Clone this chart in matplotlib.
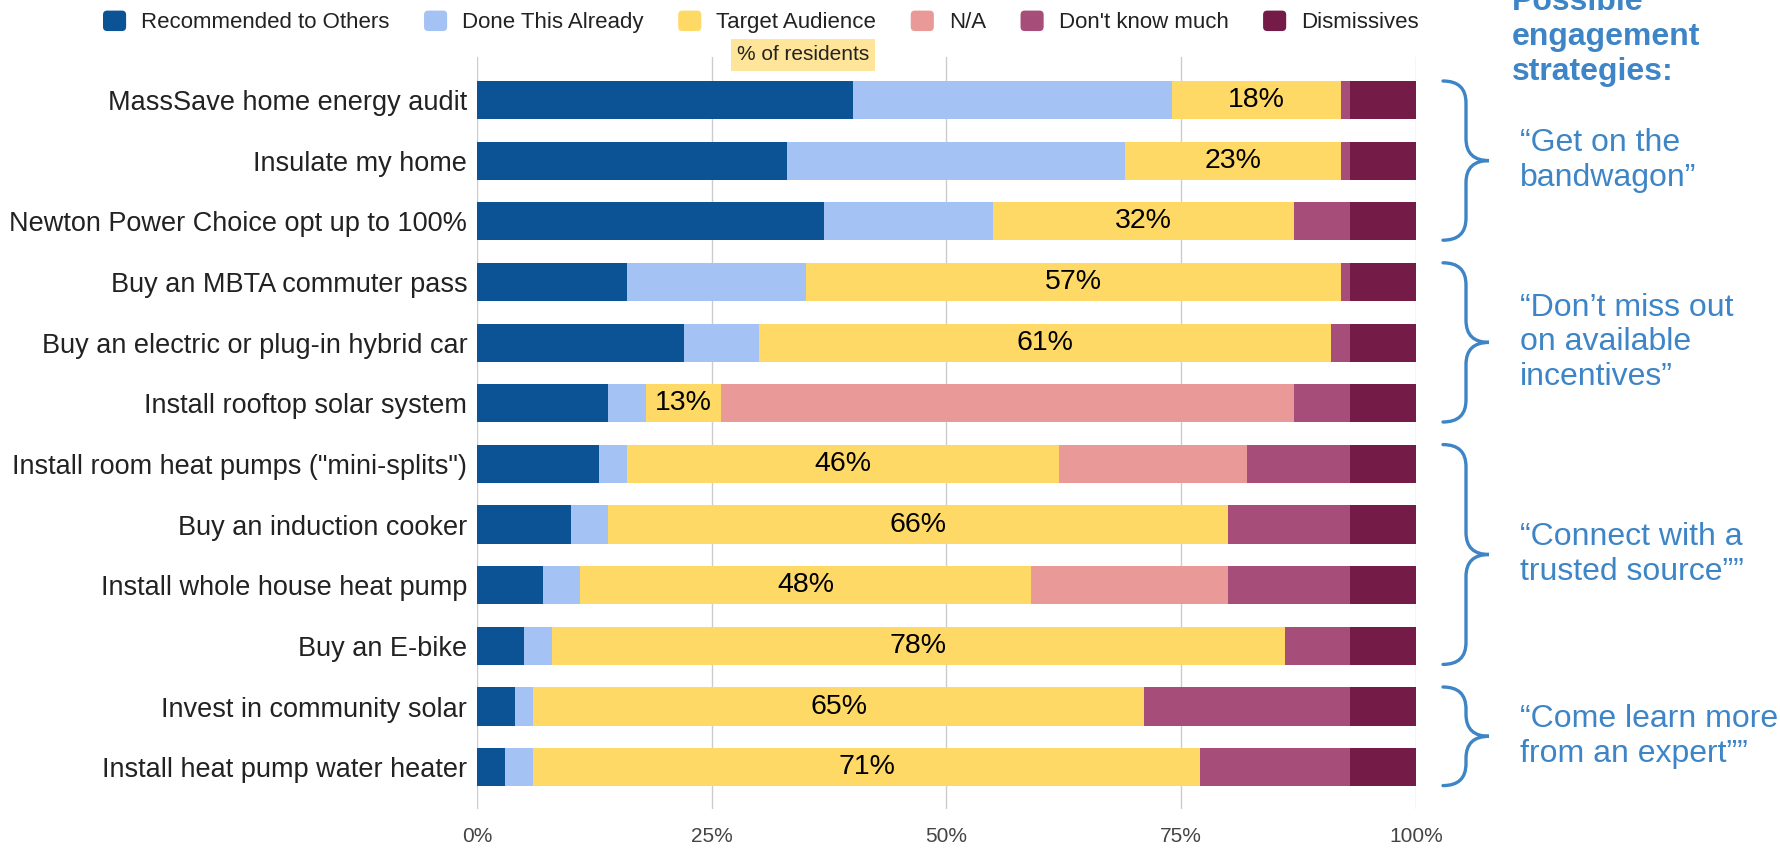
import numpy as np
import matplotlib.pyplot as plt
from matplotlib.patches import Patch, FancyBboxPatch, PathPatch
from matplotlib.path import Path
from matplotlib.transforms import Affine2D
from matplotlib.legend_handler import HandlerPatch

plt.rcParams['font.family'] = ['Liberation Sans', 'DejaVu Sans']

# Data
actions = [
    'MassSave home energy audit',
    'Insulate my home',
    'Newton Power Choice opt up to 100%',
    'Buy an MBTA commuter pass',
    'Buy an electric or plug-in hybrid car',
    'Install rooftop solar system',
    'Install room heat pumps ("mini-splits")',
    'Buy an induction cooker',
    'Install whole house heat pump',
    'Buy an E-bike',
    'Invest in community solar',
    'Install heat pump water heater',
]
recommended = [40, 33, 37, 16, 22, 14, 13, 10, 7, 5, 4, 3]
done_already = [34, 36, 18, 19, 8, 4, 3, 4, 4, 3, 2, 3]
target_audience = [18, 23, 32, 57, 61, 8, 46, 66, 48, 78, 65, 71]
not_applicable = [0, 0, 0, 0, 0, 61, 20, 0, 21, 0, 0, 0]
dont_know_much = [1, 1, 6, 1, 2, 6, 11, 13, 13, 7, 22, 16]
dismissives = [7, 7, 7, 7, 7, 7, 7, 7, 7, 7, 7, 7]
target_labels = ['18%', '23%', '32%', '57%', '61%', '13%', '46%', '66%', '48%', '78%', '65%', '71%']

series_names = ['Recommended to Others', 'Done This Already', 'Target Audience',
                'N/A', "Don't know much", 'Dismissives']
series_colors = ['#0b5394', '#a4c2f4', '#ffd966', '#ea9999', '#a64d79', '#741b47']

strategy_groups = [(0, 2), (3, 5), (6, 9), (10, 11)]
strategy_texts = ['\u201cGet on the\nbandwagon\u201d',
                  '\u201cDon\u2019t miss out\non available\nincentives\u201d',
                  '\u201cConnect with a\ntrusted source\u201d\u201d',
                  '\u201cCome learn more\nfrom an expert\u201d\u201d']

W, H = 1781, 848
fig = plt.figure(figsize=(W / 100, H / 100), dpi=100)
ax = fig.add_axes([477 / W, 1 - 809 / H, (1416 - 477) / W, (809 - 57) / H])

# pixel coords (top-left origin) for the side annotations
px = Affine2D().scale(1 / W, -1 / H).translate(0, 1) + fig.transFigure

y = np.arange(len(actions))
all_series = [recommended, done_already, target_audience, not_applicable,
              dont_know_much, dismissives]
left = np.zeros(len(actions))
for vals, name, col in zip(all_series, series_names, series_colors):
    ax.barh(y, vals, left=left, height=0.63, color=col, label=name, zorder=3)
    if name == 'Target Audience':
        for yi, l, v, lab in zip(y, left, vals, target_labels):
            ax.text(l + v / 2, yi, lab, ha='center', va='center',
                    fontsize=20.5, color='black', zorder=4)
    left += np.array(vals)

ax.set_xlim(0, 100)
ax.set_ylim(len(actions) - 0.31, -0.71)
ax.set_xticks([0, 25, 50, 75, 100])
ax.set_xticklabels(['0%', '25%', '50%', '75%', '100%'], fontsize=15, color='#444444')
ax.set_yticks(y)
ax.set_yticklabels(actions, fontsize=19.5, color='#222222')
ax.tick_params(axis='x', length=0, pad=13)
ax.tick_params(axis='y', length=0, pad=7)
ax.grid(axis='x', color='#cccccc', linewidth=1, zorder=0)
for s in ax.spines.values():
    s.set_visible(False)


def rounded_square(legend, orig_handle, xdescent, ydescent, width, height, fontsize):
    return FancyBboxPatch((-xdescent, -ydescent), width, height,
                          boxstyle='round,pad=0,rounding_size=3')


handles = [Patch(facecolor=c, label=n) for n, c in zip(series_names, series_colors)]
fig.legend(handles=handles, loc='center left', bbox_to_anchor=(103 / W, 1 - 22 / H),
           ncol=6, frameon=False, fontsize=16, borderpad=0, borderaxespad=0,
           handlelength=1.04, handleheight=1.04, handletextpad=0.68, columnspacing=1.55,
           labelcolor='#222222',
           handler_map={Patch: HandlerPatch(patch_func=rounded_square)})

fig.text(803, 55, '% of residents', transform=px, ha='center', va='center',
         fontsize=15, color='#222222', zorder=10,
         bbox=dict(boxstyle='square,pad=0.3', fc='#ffe599', ec='none'))

blue = '#3d85c6'
fig.text(1512, 37, 'Possible\nengagement\nstrategies:', transform=px, ha='left',
         va='center', fontsize=23, fontweight='bold', color=blue, linespacing=1.22)


def brace(top, bot, x0=1443, xs=1466, xt=1489):
    mid = (top + bot) / 2
    r = min(22, (bot - top) / 4)
    verts = [(x0, top), (xs, top), (xs, top + r), (xs, mid - r),
             (xs, mid), (xt, mid), (xs, mid), (xs, mid + r),
             (xs, bot - r), (xs, bot), (x0, bot)]
    codes = [Path.MOVETO, Path.CURVE3, Path.CURVE3, Path.LINETO,
             Path.CURVE3, Path.CURVE3, Path.CURVE3, Path.CURVE3,
             Path.LINETO, Path.CURVE3, Path.CURVE3]
    fig.add_artist(PathPatch(Path(verts, codes), transform=px, fill=False,
                             edgecolor=blue, linewidth=2.4, capstyle='round'))
    return mid


# brace ends in pixel rows derived from bar rows
def row_px(i):
    return 100 + i * 60.6


for (a, b), txt in zip(strategy_groups, strategy_texts):
    top = row_px(a) - 19
    bot = row_px(b) + 19
    mid = brace(top, bot)
    fig.text(1520, mid, txt, transform=px, ha='left', va='center',
             fontsize=23, color=blue, linespacing=1.2)

fig.savefig('out.png', dpi=100)
